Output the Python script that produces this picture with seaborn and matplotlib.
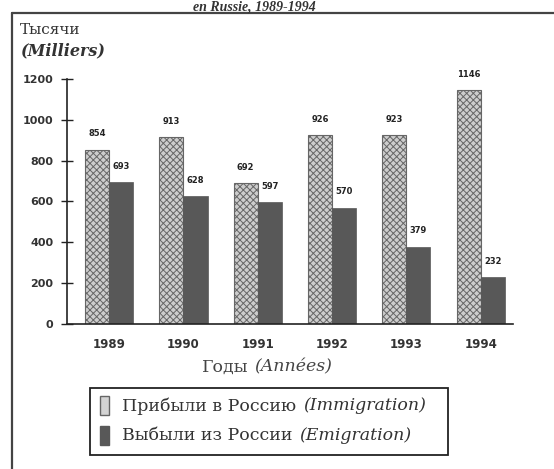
import matplotlib
matplotlib.use("Agg")
import matplotlib.pyplot as plt
import seaborn as sns
import pandas as pd
from matplotlib.lines import Line2D
from matplotlib.patches import Rectangle

years = ["1989", "1990", "1991", "1992", "1993", "1994"]
immigration = [854, 913, 692, 926, 923, 1146]
emigration = [693, 628, 597, 570, 379, 232]
series_names = ["Прибыли в Россию", "Выбыли из России"]
series_latin = ["(Immigration)", "(Emigration)"]
yticks = [0, 200, 400, 600, 800, 1000, 1200]

df = pd.DataFrame({
    "year": years * 2,
    "value": immigration + emigration,
    "series": [series_names[0]] * len(years) + [series_names[1]] * len(years),
})

sns.set_theme(style="white")
plt.rcParams["font.family"] = ["DejaVu Sans"]
plt.rcParams["hatch.color"] = "#6e6e6e"
plt.rcParams["hatch.linewidth"] = 0.7

fig = plt.figure(figsize=(5.54, 4.69), dpi=100)
ax = fig.add_axes([0.121, 0.309, 0.805, 0.523])

light = "#cdcdcd"
dark = "#585858"
sns.barplot(data=df, x="year", y="value", hue="series", order=years,
            hue_order=series_names, palette=[light, dark], width=0.65,
            dodge=True, ax=ax, legend=False, saturation=1)

n = len(years)
for i, p in enumerate(ax.patches[:2 * n]):
    if i < n:
        p.set_hatch("xxxxx")
        p.set_edgecolor("#666666")
        p.set_linewidth(0.8)
    else:
        p.set_edgecolor(dark)
        p.set_linewidth(0.5)

for cont in ax.containers:
    ax.bar_label(cont, fmt="%d", fontsize=6, fontweight="bold", padding=8, color="#222222")

x0 = -0.565
ax.set_ylim(0, 1200)
ax.set_xlim(x0, x0 + n)
ax.set_yticks(yticks)
ax.set_yticklabels([str(v) for v in yticks], fontsize=8, fontweight="bold", color="#333333")
ax.set_xticks(range(n))
ax.set_xticklabels(years, fontsize=8.5, fontweight="bold", color="#333333")
ax.set_xticks([x0 + k for k in range(n + 1)], minor=True)
ax.tick_params(axis="x", which="major", length=0, pad=10)
ax.tick_params(axis="x", which="minor", direction="inout", length=6, width=1, color="#333333")
ax.tick_params(axis="y", which="major", direction="inout", length=8, width=1, color="#222222", pad=6, left=True)
for s in ["top", "right"]:
    ax.spines[s].set_visible(False)
for s in ["left", "bottom"]:
    ax.spines[s].set_color("#222222")
    ax.spines[s].set_linewidth(1.2)
ax.set_xlabel("")
ax.set_ylabel("")

serif = ["DejaVu Serif"]
serif2 = ["Liberation Serif", "DejaVu Serif"]
txtc = "#333333"
fig.text(0.036, 0.936, "Тысячи", family=serif, fontsize=11, color=txtc, va="center")
fig.text(0.036, 0.892, "(Milliers)", family=serif, fontsize=11.5, style="italic", fontweight="bold",
         color=txtc, va="center")

fig.text(0.46, 0.999, "en Russie, 1989-1994", family=serif2, fontsize=10, style="italic",
         fontweight="bold", color=txtc, ha="center", va="top")

fig.canvas.draw()
renderer = fig.canvas.get_renderer()
W = fig.bbox.width

# x-axis title with mixed upright / italic parts, centred at x ~ 267 px
xl_y = 1 - 367 / 469
t1 = fig.text(0, xl_y, "Годы", family=serif, fontsize=12.5, color="#444444", ha="left", va="center")
t2 = fig.text(0, xl_y, "(Années)", family=serif, fontsize=12.5, style="italic", color="#444444",
              ha="left", va="center")
w1 = t1.get_window_extent(renderer=renderer).width
w2 = t2.get_window_extent(renderer=renderer).width
gap = 6
start = 267 - (w1 + gap + w2) / 2
t1.set_x(start / W)
t2.set_x((start + w1 + gap) / W)

# legend box drawn manually (mixed upright / italic text)
lx0, ly0, lw, lh = 90 / 554, 1 - 455 / 469, (448 - 90) / 554, (455 - 388) / 469
fig.add_artist(Rectangle((lx0, ly0), lw, lh, transform=fig.transFigure, fill=False,
                         edgecolor="#222222", lw=1.3))
rows_y = [1 - 406 / 469, 1 - 435 / 469]
hw, hh = 9 / 554, 19 / 469
fig.add_artist(Rectangle((100 / 554, rows_y[0] - hh / 2), hw, hh, transform=fig.transFigure,
                         facecolor="#d4d4d4", edgecolor="#666666", lw=1.0))
fig.add_artist(Rectangle((100 / 554, rows_y[1] - hh / 2), hw, hh, transform=fig.transFigure,
                         facecolor=dark, edgecolor=dark, lw=1.0))
for k in range(2):
    t = fig.text(122 / 554, rows_y[k], series_names[k], family=serif, fontsize=12.5,
                 color=txtc, va="center", ha="left")
    bb = t.get_window_extent(renderer=renderer)
    fx = (bb.x1 + 7) / W
    fig.text(fx, rows_y[k], series_latin[k], family=serif, fontsize=12.5, style="italic",
             color=txtc, va="center", ha="left")

fig.add_artist(Line2D([0.022, 1.0], [0.972, 0.972], color="#444444", lw=1.6, transform=fig.transFigure))
fig.add_artist(Line2D([0.022, 0.022], [0.0, 0.972], color="#444444", lw=1.6, transform=fig.transFigure))

fig.savefig("out.png", dpi=100)
